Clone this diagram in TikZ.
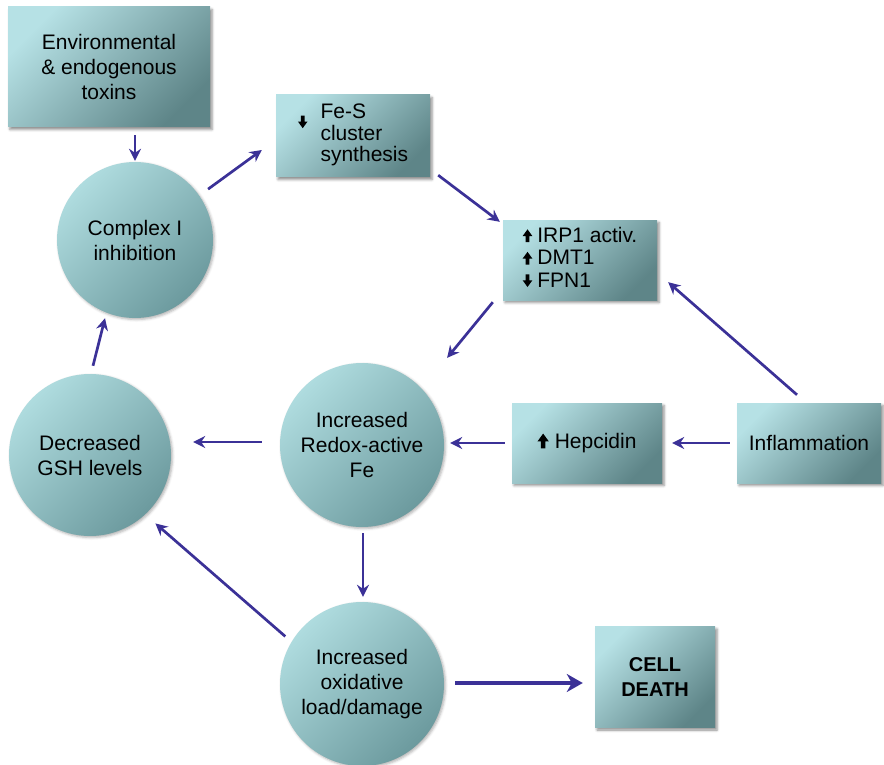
\documentclass[tikz,border=0pt]{standalone}
\usepackage{fontspec}
\setmainfont{Liberation Sans}
\usetikzlibrary{arrows.meta,calc,shadows.blur}

\definecolor{boxlight}{HTML}{B6E1E5}
\definecolor{boxmid}{HTML}{A3D0D4}
\definecolor{boxdark}{HTML}{5E8588}
\definecolor{ballight}{HTML}{AFDCDF}
\definecolor{balmid}{HTML}{9ECDD1}
\definecolor{baldark}{HTML}{6C9A9E}
\definecolor{linkblue}{HTML}{3B3197}

% small filled up / down arrows used inside the labels
\newcommand{\upmark}[1][1.15]{\tikz[baseline=0pt,x=#1pt,y=#1pt]\fill (-1.6,0) -- (1.6,0) -- (1.6,5.2) -- (4.2,5.2) -- (0,11) -- (-4.2,5.2) -- (-1.6,5.2) -- cycle;}
\newcommand{\downmark}[1][1.15]{\tikz[baseline=0pt,x=#1pt,y=#1pt]\fill (-1.6,11) -- (1.6,11) -- (1.6,5.8) -- (4.2,5.8) -- (0,0) -- (-4.2,5.8) -- (-1.6,5.8) -- cycle;}

\tikzset{
  boxnode/.style={rectangle, inner sep=0pt,
    top color=boxlight, middle color=boxmid, bottom color=boxdark, shading angle=45,
    blur shadow={shadow xshift=2pt, shadow yshift=-2.5pt, shadow blur radius=2.5pt, shadow opacity=45},
    align=center, font=\fontsize{21}{25}\selectfont},
  ballnode/.style={circle, inner sep=0pt,
    top color=ballight, middle color=balmid, bottom color=baldark, shading angle=45,
    blur shadow={shadow xshift=1.5pt, shadow yshift=-1.5pt, shadow blur radius=2.5pt, shadow opacity=30},
    align=center, font=\fontsize{21}{25}\selectfont},
  link/.style={draw=linkblue, line width=2.7pt,
    -{Stealth[length=12pt,width=12pt,inset=4pt]}},
  biglink/.style={draw=linkblue, line width=4pt,
    -{Stealth[length=16pt,width=18pt,inset=5pt]}}
}

\begin{document}
\begin{tikzpicture}[x=1pt,y=-1pt]
\useasboundingbox (0,0) rectangle (884,765);

% boxes
\node[boxnode, minimum width=202pt, minimum height=120pt] (env) at (109,67)
  {Environmental\\\& endogenous\\toxins};
\node[boxnode, minimum width=154pt, minimum height=82pt] (fes) at (353,136)
  {\raisebox{13pt}{\downmark}\hspace{13pt}{\renewcommand{\arraystretch}{0.86}\begin{tabular}[c]{@{}l@{}}Fe-S\\cluster\\synthesis\end{tabular}}};
\node[boxnode, minimum width=154pt, minimum height=80pt] (irp) at (580,260)
  {{\renewcommand{\arraystretch}{0.9}\begin{tabular}{@{}l@{}}\upmark\hspace{5pt}IRP1 activ.\\\upmark\hspace{5pt}DMT1\\\downmark\hspace{5pt}FPN1\end{tabular}}};
\node[boxnode, minimum width=150pt, minimum height=80pt] (hep) at (587,443)
  {\upmark[1.35]\hspace{6pt}Hepcidin};
\node[boxnode, minimum width=144pt, minimum height=80pt] (infl) at (809,443)
  {Inflammation};
\node[boxnode, minimum width=120pt, minimum height=101pt, font=\fontsize{20}{25}\selectfont\bfseries] (cell) at (655,677)
  {CELL\\DEATH};

% circles
\node[ballnode, minimum size=156pt] (cx) at (135,240) {Complex I\\inhibition};
\node[ballnode, minimum size=164pt] (redox) at (362,445) {Increased\\Redox-active\\Fe};
\node[ballnode, minimum size=162pt] (gsh) at (90,455) {Decreased\\GSH levels};
\node[ballnode, minimum size=164pt] (ox) at (362,684) {Increased\\oxidative\\load/damage};

% connectors
\draw[link, shorten <=8pt, shorten >=1pt] (env.south -| cx.north) -- (cx.north);
\draw[link] ($(cx.35)+(9,-6)$) -- ($(fes.west)+(-14,14)$);
\draw[link] ($(fes.south east)+(8,-2)$) -- ($(irp.north west)+(-3,2)$);
\draw[link] ($(irp.south west)+(-10,2)$) -- ($(redox.45)+(27,-29)$);
\draw[link] ($(infl.north)+(-12,-8)$) -- ($(irp.south east)+(11,-18)$);
\draw[link] ($(infl.west)+(-7,0)$) -- ($(hep.east)+(10,0)$);
\draw[link] ($(hep.west)+(-7,0)$) -- ($(redox.east |- hep.west)+(6,0)$);
\draw[link] ($(redox.west)+(-18,-3)$) -- ($(gsh.east |- redox.west)+(22,-3)$);
\draw[link] ($(gsh.north)+(3,-8)$) -- ($(cx.south)+(-30,0)$);
\draw[link] ($(redox.south)+(1,6)$) -- ($(ox.north)+(1,-5)$);
\draw[link] ($(ox.148)+(-7,-4)$) -- ($(gsh.-46)+(9,10)$);
\draw[biglink] ($(ox.east)+(11,-1)$) -- ($(cell.west |- ox.east)+(-12,-1)$);
\end{tikzpicture}
\end{document}
